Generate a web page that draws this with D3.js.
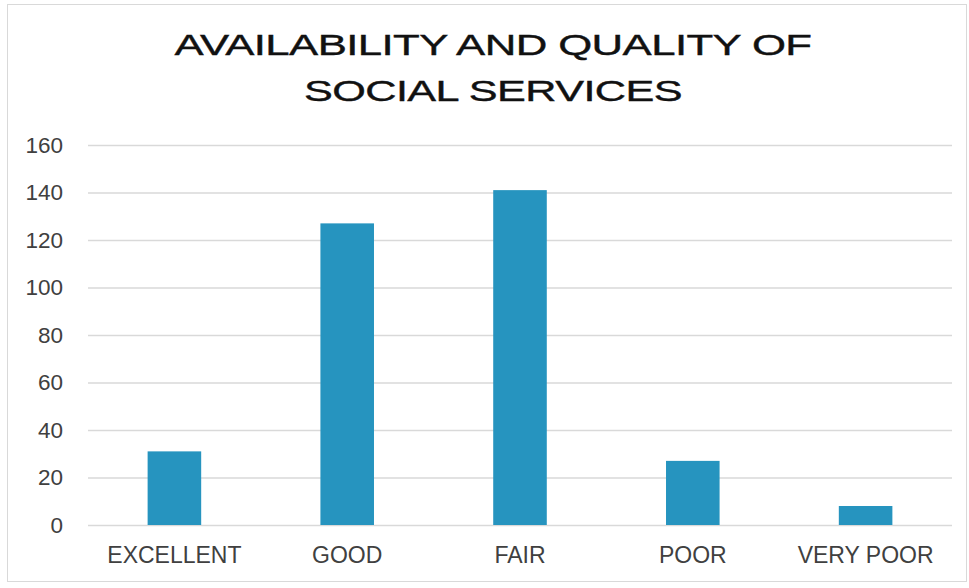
<!DOCTYPE html>
<html>
<head>
<meta charset="utf-8">
<script src="https://cdn.jsdelivr.net/npm/d3@7"></script>
<style>
  body { margin: 0; background: #fff; }
  svg { display: block; }
</style>
</head>
<body>
<svg></svg>
<script>
const categories = ["EXCELLENT", "GOOD", "FAIR", "POOR", "VERY POOR"];
const counts = [31, 127, 141, 27, 8];
const yTicks = [0, 20, 40, 60, 80, 100, 120, 140, 160];
const titleLines = ["AVAILABILITY AND QUALITY OF", "SOCIAL SERVICES"];

const data = categories.map((c, i) => ({ cat: c, value: counts[i] }));

const width = 969;
const height = 588;
const margin = { top: 145, right: 17, bottom: 63, left: 88 };

const svg = d3.select("svg")
    .attr("width", width)
    .attr("height", height);

// chart frame
svg.append("rect")
    .attr("x", 7.5).attr("y", 4.5)
    .attr("width", 959).attr("height", 577)
    .attr("fill", "#fff")
    .attr("stroke", "#d9d9d9");

const x = d3.scaleBand()
    .domain(categories)
    .range([margin.left, width - margin.right])
    .paddingInner(0.69)
    .paddingOuter(0.345);

const y = d3.scaleLinear()
    .domain([0, 160])
    .range([height - margin.bottom, margin.top]);

// gridlines
svg.append("g")
    .selectAll("line")
    .data(yTicks)
    .enter().append("line")
    .attr("x1", margin.left)
    .attr("x2", width - margin.right)
    .attr("y1", d => y(d) + 0.5)
    .attr("y2", d => y(d) + 0.5)
    .attr("stroke", "#d9d9d9")
    .attr("stroke-width", 1.3);

svg.append("g")
    .selectAll("rect")
    .data(data)
    .enter().append("rect")
    .attr("x", d => x(d.cat))
    .attr("y", d => y(d.value))
    .attr("width", x.bandwidth())
    .attr("height", d => y(0) - y(d.value))
    .attr("fill", "#2694bf");

// y axis labels
const yAxis = svg.append("g")
    .attr("transform", `translate(${margin.left},0)`)
    .call(d3.axisLeft(y).tickValues(yTicks).tickSize(0).tickPadding(25));
yAxis.select(".domain").remove();
yAxis.selectAll("text")
    .attr("font-family", "'Liberation Sans', Arial, sans-serif")
    .attr("font-size", 22.5)
    .attr("fill", "#404040");

// x axis labels
const xAxis = svg.append("g")
    .attr("transform", `translate(0,${height - margin.bottom})`)
    .call(d3.axisBottom(x).tickSize(0).tickPadding(22));
xAxis.select(".domain").remove();
xAxis.selectAll("text")
    .attr("font-family", "'Liberation Sans', Arial, sans-serif")
    .attr("font-size", 23)
    .attr("fill", "#404040");

// title: wide face, tight tracking -> scale horizontally to fit
const titleWidths = [637, 378];
const titleBase = [55, 101];
svg.append("g")
    .selectAll("text")
    .data(titleLines)
    .enter().append("text")
    .attr("text-anchor", "middle")
    .attr("font-family", "'Liberation Sans', Arial, sans-serif")
    .attr("font-size", 30)
    .attr("letter-spacing", -0.4)
    .attr("fill", "#111")
    .attr("stroke", "#111")
    .attr("stroke-width", 0.4)
    .text(d => d)
    .each(function(d, i) {
        const w = this.getComputedTextLength();
        const sx = titleWidths[i] / w;
        d3.select(this).attr("transform", `translate(493,${titleBase[i]}) scale(${sx},1)`);
    });
</script>
</body>
</html>
